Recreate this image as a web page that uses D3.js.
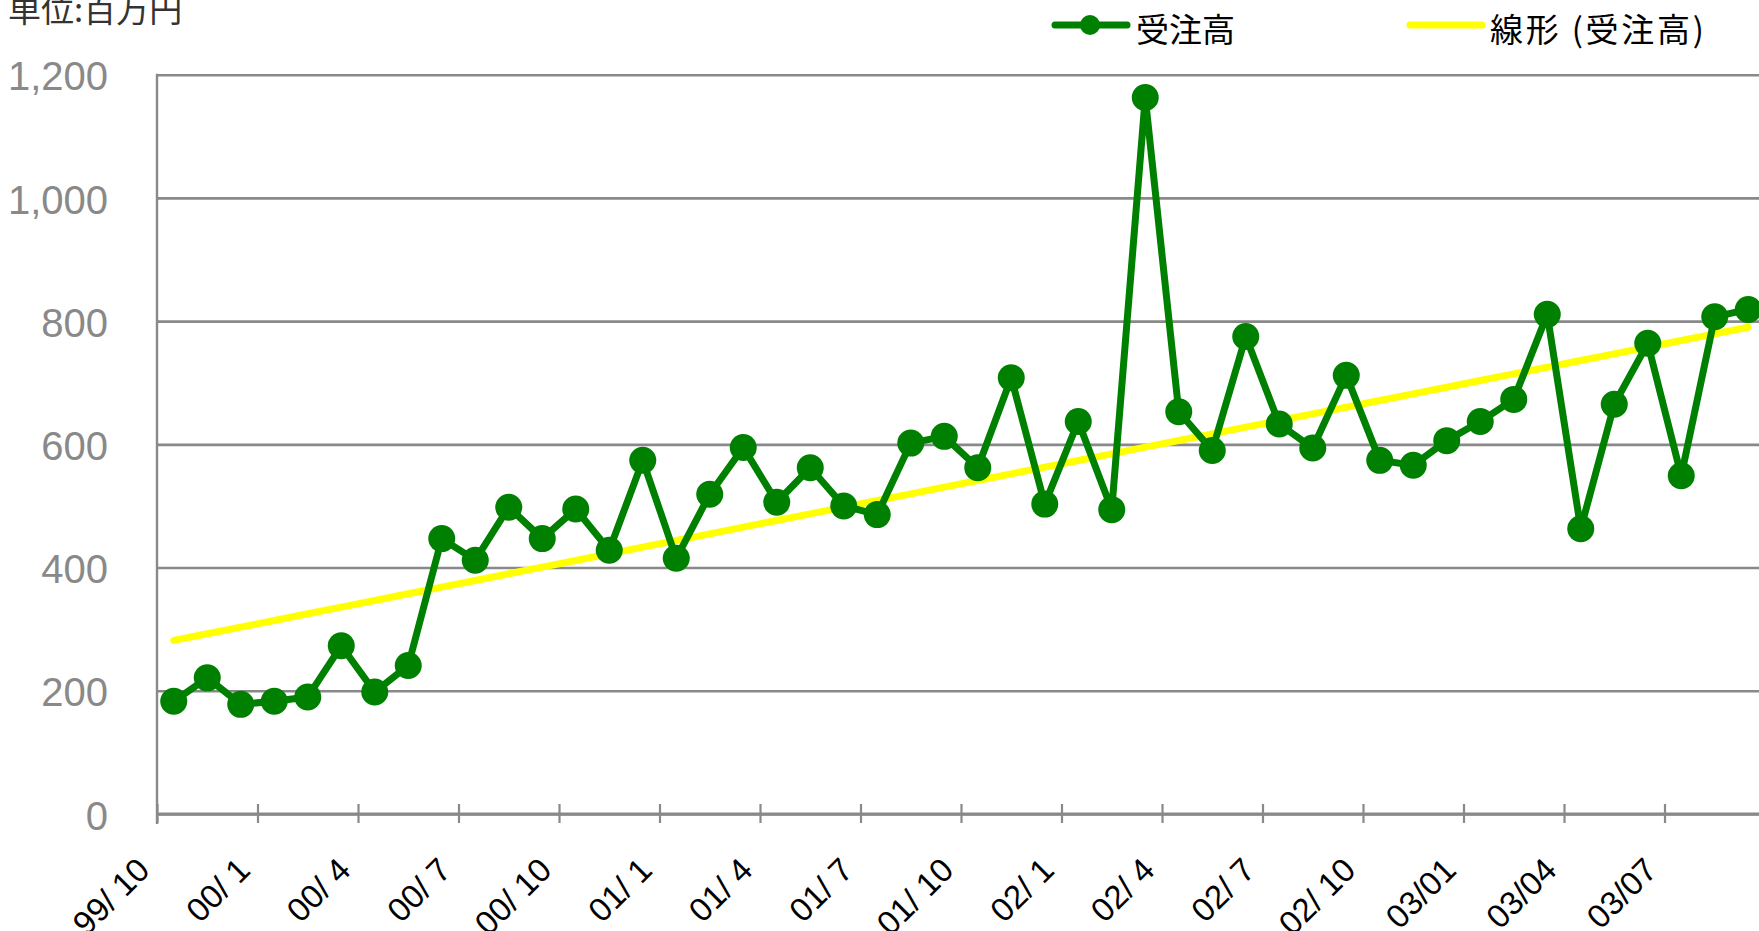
<!DOCTYPE html>
<html>
<head>
<meta charset="utf-8">
<script src="https://cdn.jsdelivr.net/npm/d3@7"></script>
<style>
  body { margin: 0; background: #fff; }
  svg { display: block; }
</style>
</head>
<body>
<div class="chart"></div>
<script>
var svgWidth = 1759;
var svgHeight = 931;

// months 99/10 .. 03/09
var months = [
  "99/10","99/11","99/12","00/1","00/2","00/3","00/4","00/5","00/6","00/7","00/8","00/9",
  "00/10","00/11","00/12","01/1","01/2","01/3","01/4","01/5","01/6","01/7","01/8","01/9",
  "01/10","01/11","01/12","02/1","02/2","02/3","02/4","02/5","02/6","02/7","02/8","02/9",
  "02/10","02/11","02/12","03/01","03/02","03/03","03/04","03/05","03/06","03/07","03/08","03/09"
];

// 受注高 (百万円)
var orders = [
  183, 221, 178, 183, 190, 273, 198, 241, 447, 412, 498, 447,
  495, 428, 574, 415, 519, 595, 506, 562, 500, 486, 602, 613,
  562, 708, 503, 637, 494, 1163, 653, 590, 775, 633, 594, 712,
  574, 566, 606, 637, 673, 811, 463, 665, 764, 549, 807, 819
];

// x tick labels, one every 3 months
var tickLabels = [
  "99/ 10","00/ 1","00/ 4","00/ 7","00/ 10","01/ 1","01/ 4","01/ 7",
  "01/ 10","02/ 1","02/ 4","02/ 7","02/ 10","03/01","03/04","03/07"
];
var yTicks = [0, 200, 400, 600, 800, 1000, 1200];

var plotLeft = 157, plotRight = 1765, plotTop = 74.7, plotBottom = 814;

var svg = d3.select(".chart")
  .append("svg")
  .attr("width", svgWidth)
  .attr("height", svgHeight);

var xScale = d3.scaleLinear()
  .domain([0, months.length])
  .range([plotLeft, plotRight]);

var yScale = d3.scaleLinear()
  .domain([0, 1200])
  .range([plotBottom, plotTop]);

// gridlines + y labels
var leftAxis = d3.axisLeft(yScale)
  .tickValues(yTicks)
  .tickSize(-(plotRight - plotLeft))
  .tickPadding(49)
  .tickFormat(d3.format(","));

var yAxisG = svg.append("g")
  .attr("transform", `translate(${plotLeft},0)`)
  .call(leftAxis);
yAxisG.select(".domain").remove();
yAxisG.selectAll("line")
  .attr("stroke", "#898989")
  .attr("stroke-width", 2.6);
yAxisG.selectAll("text")
  .attr("fill", "#898989")
  .attr("font-family", "'Liberation Sans', Arial, sans-serif")
  .attr("font-size", 40)
  .attr("dy", "0.38em");

// y axis line
svg.append("line")
  .attr("x1", plotLeft).attr("x2", plotLeft)
  .attr("y1", plotTop - 1).attr("y2", plotBottom + 10)
  .attr("stroke", "#898989")
  .attr("stroke-width", 2.4);

// x axis
var bottomAxis = d3.axisBottom(xScale)
  .tickValues(d3.range(0, months.length, 3))
  .tickSize(9)
  .tickFormat((d, i) => tickLabels[i]);

var xAxisG = svg.append("g")
  .attr("transform", `translate(0,${plotBottom})`)
  .call(bottomAxis);
xAxisG.select(".domain")
  .attr("d", `M${plotLeft},0H${svgWidth + 10}`)
  .attr("stroke", "#898989")
  .attr("stroke-width", 3.2);
xAxisG.selectAll(".tick line")
  .attr("y1", -10)
  .attr("y2", 9)
  .attr("stroke", "#898989")
  .attr("stroke-width", 2.2);
xAxisG.selectAll(".tick text")
  .attr("fill", "#000")
  .attr("font-family", "'Liberation Sans', Arial, sans-serif")
  .attr("font-size", 33)
  .attr("text-anchor", "end")
  .attr("y", 0)
  .attr("dy", 0)
  .attr("transform", "translate(-6,58) rotate(-45)");

// linear trend (least squares over the monthly series)
var n = orders.length;
var mx = d3.mean(d3.range(n));
var my = d3.mean(orders);
var slope = d3.sum(orders, (v, i) => (i - mx) * (v - my)) / d3.sum(d3.range(n), i => (i - mx) * (i - mx));
var trend = orders.map((v, i) => my + slope * (i - mx));

var line = d3.line()
  .x((d, i) => xScale(i + 0.5))
  .y(d => yScale(d));

svg.append("path")
  .attr("d", line(trend))
  .attr("fill", "none")
  .attr("stroke", "#ffff00")
  .attr("stroke-width", 7)
  .attr("stroke-linecap", "round");

svg.append("path")
  .attr("d", line(orders))
  .attr("fill", "none")
  .attr("stroke", "#008000")
  .attr("stroke-width", 7)
  .attr("stroke-linejoin", "round");

svg.selectAll("circle.pt")
  .data(orders)
  .enter()
  .append("circle")
  .attr("class", "pt")
  .attr("cx", (d, i) => xScale(i + 0.5))
  .attr("cy", d => yScale(d))
  .attr("r", 13.5)
  .attr("fill", "#008000");

// unit label
svg.append("text")
  .attr("x", 8)
  .attr("y", 22)
  .attr("font-family", "'Noto Sans CJK JP', sans-serif")
  .attr("font-size", 33)
  .attr("fill", "#333")
  .text("単位:百万円");

// legend
var legend = svg.append("g");
legend.append("line")
  .attr("x1", 1055).attr("x2", 1127)
  .attr("y1", 25).attr("y2", 25)
  .attr("stroke", "#008000").attr("stroke-width", 7)
  .attr("stroke-linecap", "round");
legend.append("circle")
  .attr("cx", 1090).attr("cy", 25).attr("r", 10)
  .attr("fill", "#008000");
legend.append("text")
  .attr("x", 1136).attr("y", 27.5)
  .attr("dominant-baseline", "central")
  .attr("font-family", "'Noto Sans CJK JP', sans-serif")
  .attr("font-size", 33)
  .attr("fill", "#000")
  .text("受注高");

legend.append("line")
  .attr("x1", 1410).attr("x2", 1482)
  .attr("y1", 25).attr("y2", 25)
  .attr("stroke", "#ffff00").attr("stroke-width", 7)
  .attr("stroke-linecap", "round");
legend.append("text")
  .attr("x", 1490).attr("y", 27.5)
  .attr("dominant-baseline", "central")
  .attr("font-family", "'Noto Sans CJK JP', sans-serif")
  .attr("font-size", 33)
  .attr("fill", "#000")
  .attr("textLength", 214)
  .attr("lengthAdjust", "spacing")
  .text("線形 (受注高)");
</script>
</body>
</html>
